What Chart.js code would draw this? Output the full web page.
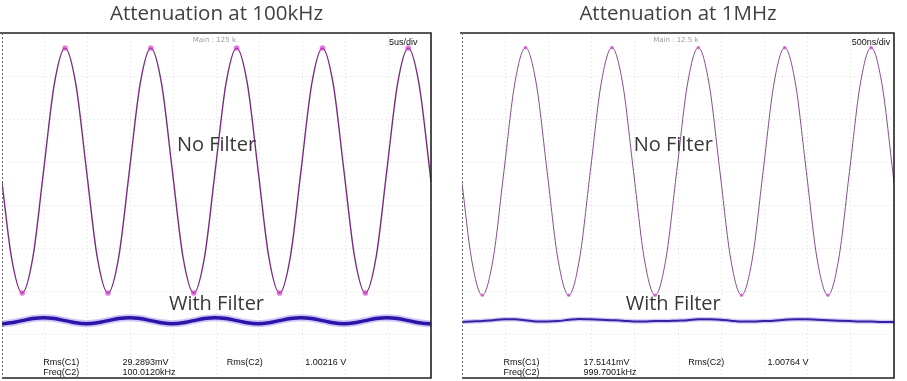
<!DOCTYPE html>
<html><head><meta charset="utf-8">
<script src="https://cdn.jsdelivr.net/npm/chart.js@4.4.0/dist/chart.umd.min.js"></script>
<style>
html,body{margin:0;padding:0;background:#fff;width:907px;height:381px;overflow:hidden}
canvas{position:absolute;top:0}
#c1{left:0}
#c2{left:455px}
</style></head><body>
<canvas id="c1" width="450" height="381"></canvas>
<canvas id="c2" width="452" height="381"></canvas>
<script>
// time axis in divisions (10 divisions across the screen)
const timeDiv = [0, 0.22, 0.47, 0.72, 0.97, 1.22, 1.47, 1.72, 1.97, 2.22, 2.47, 2.72, 2.97, 3.22, 3.47, 3.72, 3.97, 4.22, 4.47, 4.72, 4.97, 5.22, 5.47, 5.72, 5.97, 6.22, 6.47, 6.72, 6.97, 7.22, 7.47, 7.72, 7.97, 8.22, 8.47, 8.72, 8.97, 9.22, 9.47, 9.72, 9.97, 10];
// vertical values in divisions (-4 .. 4)
const noFilter100k = [0.54, -1.20, -2.03, -1.20, 0.81, 2.82, 3.65, 2.82, 0.81, -1.20, -2.03, -1.20, 0.81, 2.82, 3.65, 2.82, 0.81, -1.20, -2.03, -1.20, 0.81, 2.82, 3.65, 2.82, 0.81, -1.20, -2.03, -1.20, 0.81, 2.82, 3.65, 2.82, 0.81, -1.20, -2.03, -1.20, 0.81, 2.82, 3.65, 2.82, 0.81, 0.54];
const withFilter100k = [-2.74, -2.72, -2.67, -2.62, -2.60, -2.62, -2.67, -2.72, -2.74, -2.72, -2.67, -2.62, -2.60, -2.62, -2.67, -2.72, -2.74, -2.72, -2.67, -2.62, -2.60, -2.62, -2.67, -2.72, -2.74, -2.72, -2.67, -2.62, -2.60, -2.62, -2.67, -2.72, -2.74, -2.72, -2.67, -2.62, -2.60, -2.62, -2.67, -2.72, -2.74, -2.74];
const noFilter1M = [0.52, -1.24, -2.08, -1.24, 0.79, 2.82, 3.66, 2.82, 0.79, -1.24, -2.08, -1.24, 0.79, 2.82, 3.66, 2.82, 0.79, -1.24, -2.08, -1.24, 0.79, 2.82, 3.66, 2.82, 0.79, -1.24, -2.08, -1.24, 0.79, 2.82, 3.66, 2.82, 0.79, -1.24, -2.08, -1.24, 0.79, 2.82, 3.66, 2.82, 0.79, 0.52];
const withFilter1M = [-2.70, -2.69, -2.68, -2.66, -2.64, -2.64, -2.66, -2.69, -2.69, -2.68, -2.65, -2.63, -2.64, -2.65, -2.66, -2.67, -2.69, -2.69, -2.68, -2.68, -2.67, -2.66, -2.64, -2.64, -2.65, -2.67, -2.69, -2.69, -2.68, -2.67, -2.65, -2.64, -2.64, -2.65, -2.66, -2.67, -2.68, -2.69, -2.69, -2.70, -2.70, -2.70];

const titles = ['Attenuation at 100kHz', 'Attenuation at 1MHz'];
const mainLabels = ['Main : 125 k', 'Main : 12.5 k'];
const timebases = ['5us/div', '500ns/div'];
const traceLabels = ['No Filter', 'With Filter'];
const measNames = ['Rms(C1)', 'Rms(C2)', 'Freq(C2)'];
const meas100k = ['29.2893mV', '1.00216 V', '100.0120kHz'];
const meas1M = ['17.5141mV', '1.00764 V', '999.7001kHz'];

const toPts = ys => ys.map((y, i) => ({x: timeDiv[i], y}));

const scopeDecor = {
  id: 'scopeDecor',
  afterDatasetsDraw(chart, args, o) {
    const {ctx, chartArea: a, scales: {x, y}} = chart;
    const X = v => x.getPixelForValue(v), Y = v => y.getPixelForValue(v);
    ctx.save();
    ctx.textBaseline = 'middle';
    // small scope labels
    ctx.fillStyle = '#9a9a9a'; ctx.font = '7px "DejaVu Sans"'; ctx.textAlign = 'center';
    ctx.fillText(o.main, X(4.95), Y(3.84));
    ctx.fillStyle = '#111'; ctx.font = '9px "Liberation Sans"'; ctx.textAlign = 'left';
    ctx.fillText(o.timebase, X(9.02), Y(3.79));
    // trace labels
    ctx.fillStyle = '#383838'; ctx.font = '20px "Open Sans"'; ctx.textAlign = 'center';
    ctx.fillText(traceLabels[0], X(o.labelX), Y(1.40));
    ctx.fillText(traceLabels[1], X(o.labelX), Y(-2.29));
    // measurements
    ctx.fillStyle = '#111'; ctx.font = '9px "Liberation Sans"'; ctx.textAlign = 'left';
    ctx.fillText(measNames[0], X(0.96), Y(-3.63));
    ctx.fillText(o.meas[0], X(2.81), Y(-3.63));
    ctx.fillText(measNames[1], X(5.24), Y(-3.63));
    ctx.fillText(o.meas[1], X(7.07), Y(-3.63));
    ctx.fillText(measNames[2], X(0.96), Y(-3.88));
    ctx.fillText(o.meas[2], X(2.81), Y(-3.88));
    // frame
    ctx.strokeStyle = '#222'; ctx.lineWidth = 1.6;
    ctx.beginPath();
    ctx.moveTo(a.left - 2, a.top); ctx.lineTo(a.right, a.top); ctx.lineTo(a.right, a.bottom); ctx.lineTo(a.left, a.bottom);
    ctx.stroke();
    ctx.strokeStyle = '#666'; ctx.lineWidth = 1; ctx.setLineDash([2, 2]);
    ctx.beginPath(); ctx.moveTo(a.left + 0.5, a.top); ctx.lineTo(a.left + 0.5, a.bottom); ctx.stroke();
    ctx.restore();
  }
};

function makeChart(id, title, noF, withF, pad, deco, sine, blue) {
  const extreme = ctx => {
    const v = ctx.raw && ctx.raw.y;
    const ys = ctx.dataset.data.map(p => p.y);
    return (v === Math.max(...ys) || v === Math.min(...ys)) ? sine.glow : 0;
  };
  return new Chart(document.getElementById(id), {
    type: 'line',
    data: {
      datasets: [
        {data: toPts(withF), borderColor: blue.halo, borderWidth: blue.haloW, pointRadius: 0, cubicInterpolationMode: 'monotone', order: 3},
        {data: toPts(withF), borderColor: blue.core, borderWidth: blue.coreW, pointRadius: 0, cubicInterpolationMode: 'monotone', order: 2},
        {data: toPts(noF), borderColor: sine.color, borderWidth: sine.width, pointRadius: extreme, pointBorderWidth: 0,
         pointBackgroundColor: 'rgba(215,40,200,0.6)', cubicInterpolationMode: 'monotone', order: 1}
      ]
    },
    options: {
      responsive: false, animation: false,
      layout: {padding: pad},
      plugins: {
        legend: {display: false}, tooltip: {enabled: false},
        title: {display: true, text: title, color: '#404040', font: {family: 'Open Sans', size: 20.5, weight: 'normal'}, padding: {top: 1.5, bottom: 6.9}},
        scopeDecor: deco
      },
      scales: {
        x: {type: 'linear', min: 0, max: 10, ticks: {display: false, stepSize: 1}, grid: {color: '#dcdcdc', drawTicks: false}, border: {display: false, dash: [1, 3]}},
        y: {type: 'linear', min: -4, max: 4, ticks: {display: false, stepSize: 1}, grid: {color: '#dcdcdc', drawTicks: false}, border: {display: false, dash: [1, 3]}}
      }
    },
    plugins: [scopeDecor]
  });
}

makeChart('c1', titles[0], noFilter100k, withFilter100k, {left: 2, right: 19, top: 0, bottom: 3},
  {main: mainLabels[0], timebase: timebases[0], meas: meas100k, labelX: 5.0},
  {color: '#7c2a84', width: 1.4, glow: 2.8},
  {halo: 'rgba(130,110,235,0.4)', haloW: 7, core: '#2c14a8', coreW: 3.5});
makeChart('c2', titles[1], noFilter1M, withFilter1M, {left: 7, right: 13, top: 0, bottom: 3},
  {main: mainLabels[1], timebase: timebases[1], meas: meas1M, labelX: 4.89},
  {color: '#8a4a90', width: 1, glow: 1.8},
  {halo: 'rgba(120,100,235,0.35)', haloW: 4.5, core: '#3322a2', coreW: 2});
</script>
</body></html>
